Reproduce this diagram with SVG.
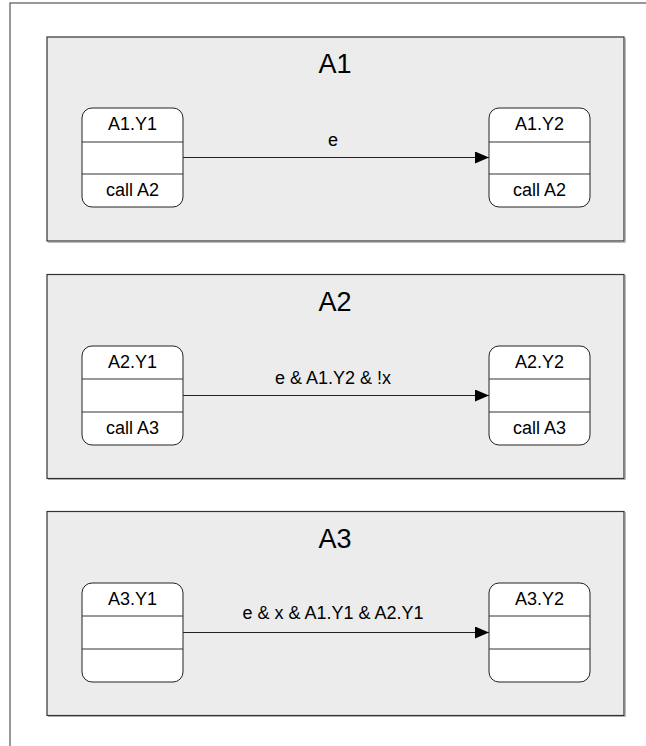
<svg xmlns="http://www.w3.org/2000/svg" width="646" height="746" viewBox="0 0 646 746">
<defs>
<style>
.frame{fill:#fff;stroke:#555;stroke-width:1.2}
.panel{fill:#ececec;stroke:#333;stroke-width:1.2}
.shadow{fill:none;stroke:#bbb;stroke-width:1}
.state{fill:#fff;stroke:#222;stroke-width:1}
.div{stroke:#333;stroke-width:1}
.title{font-family:"Liberation Sans",Arial,sans-serif;font-size:27px;fill:#000;text-anchor:middle}
.lbl{font-family:"Liberation Sans",Arial,sans-serif;font-size:18px;fill:#000;text-anchor:middle}
.edge{stroke:#222;stroke-width:1;fill:none}
</style>
<marker id="arr" viewBox="0 0 14 12" refX="14" refY="6" markerWidth="14" markerHeight="12" markerUnits="userSpaceOnUse" orient="auto">
<path d="M0,0 L14,6 L0,12 Z" fill="#000"/>
</marker>
</defs>
<rect class="frame" x="10" y="3" width="650" height="760"/>
<g id="A1">
<path class="shadow" d="M48,242.5 H625.5 V38"/>
<rect class="panel" x="47" y="37" width="577" height="204"/>
<text class="title" x="335" y="73">A1</text>
</g>
<g id="A2">
<path class="shadow" d="M48,479.5 H625.5 V275"/>
<rect class="panel" x="47" y="274.5" width="577" height="204"/>
<text class="title" x="335" y="310.5">A2</text>
</g>
<g id="A3">
<path class="shadow" d="M48,716.5 H625.5 V512"/>
<rect class="panel" x="47" y="511.5" width="577" height="204"/>
<text class="title" x="335" y="547.5">A3</text>
</g>
<g id="A1.Y1">
<rect class="state" x="82" y="108" width="101" height="99" rx="10"/>
<line class="div" x1="82" y1="142" x2="183" y2="142"/>
<line class="div" x1="82" y1="174" x2="183" y2="174"/>
<text class="lbl" x="132.5" y="129.5">A1.Y1</text>
<text class="lbl" x="132.5" y="195.5">call A2</text>
</g>
<g id="A1.Y2">
<rect class="state" x="489" y="108" width="101" height="99" rx="10"/>
<line class="div" x1="489" y1="142" x2="590" y2="142"/>
<line class="div" x1="489" y1="174" x2="590" y2="174"/>
<text class="lbl" x="539.5" y="129.5">A1.Y2</text>
<text class="lbl" x="539.5" y="195.5">call A2</text>
</g>
<g id="A2.Y1">
<rect class="state" x="82" y="346" width="101" height="99" rx="10"/>
<line class="div" x1="82" y1="379" x2="183" y2="379"/>
<line class="div" x1="82" y1="412" x2="183" y2="412"/>
<text class="lbl" x="132.5" y="367.5">A2.Y1</text>
<text class="lbl" x="132.5" y="433.5">call A3</text>
</g>
<g id="A2.Y2">
<rect class="state" x="489" y="346" width="101" height="99" rx="10"/>
<line class="div" x1="489" y1="379" x2="590" y2="379"/>
<line class="div" x1="489" y1="412" x2="590" y2="412"/>
<text class="lbl" x="539.5" y="367.5">A2.Y2</text>
<text class="lbl" x="539.5" y="433.5">call A3</text>
</g>
<g id="A3.Y1">
<rect class="state" x="82" y="583" width="101" height="99" rx="10"/>
<line class="div" x1="82" y1="616" x2="183" y2="616"/>
<line class="div" x1="82" y1="649" x2="183" y2="649"/>
<text class="lbl" x="132.5" y="604.5">A3.Y1</text>
</g>
<g id="A3.Y2">
<rect class="state" x="489" y="583" width="101" height="99" rx="10"/>
<line class="div" x1="489" y1="616" x2="590" y2="616"/>
<line class="div" x1="489" y1="649" x2="590" y2="649"/>
<text class="lbl" x="539.5" y="604.5">A3.Y2</text>
</g>
<g id="connectors">
<line class="edge" x1="183" y1="157.5" x2="489" y2="157.5" marker-end="url(#arr)"/>
<text class="lbl" x="333" y="146">e</text>
<line class="edge" x1="183" y1="395.5" x2="489" y2="395.5" marker-end="url(#arr)"/>
<text class="lbl" x="333" y="384">e &amp; A1.Y2 &amp; !x</text>
<line class="edge" x1="183" y1="632.5" x2="489" y2="632.5" marker-end="url(#arr)"/>
<text class="lbl" x="333" y="619">e &amp; x &amp; A1.Y1 &amp; A2.Y1</text>
</g>
</svg>
